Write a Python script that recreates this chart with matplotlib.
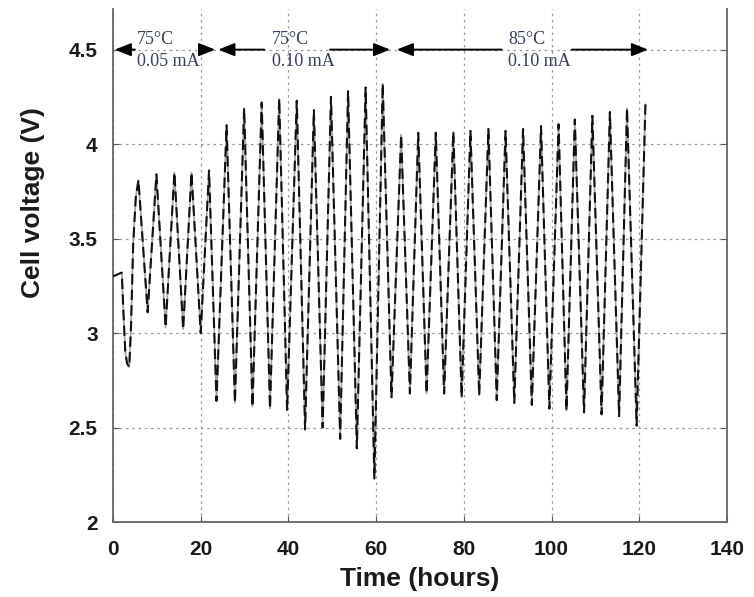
import matplotlib
matplotlib.use("Agg")
import matplotlib.pyplot as plt

# cycling data (hours, volts): troughs and peaks of each cycle
time_h = [0, 1.0, 2.0, 2.4, 2.8, 3.2, 3.7, 4.1, 4.6, 5.2, 5.8,
          7.9, 9.9, 12.0, 14.0, 16.0, 17.9, 20.0, 21.9,
          23.6, 25.9, 27.8, 29.9, 31.8, 33.9, 35.8, 37.9, 39.7, 41.9,
          43.8, 45.8, 47.8, 49.7, 51.8, 53.6, 55.6, 57.6, 59.6, 61.5,
          63.5, 65.7, 67.7, 69.6, 71.5, 73.6, 75.5, 77.6, 79.5, 81.5,
          83.5, 85.6, 87.5, 89.5, 91.5, 93.5, 95.5, 97.6, 99.5, 101.6,
          103.4, 105.3, 107.4, 109.3, 111.4, 113.3, 115.4, 117.2, 119.4, 121.4]
voltage = [3.30, 3.31, 3.32, 3.10, 2.90, 2.84, 2.82, 3.03, 3.47, 3.72, 3.81,
           3.11, 3.84, 3.03, 3.85, 3.02, 3.85, 3.00, 3.86,
           2.64, 4.10, 2.63, 4.19, 2.61, 4.22, 2.60, 4.24, 2.59, 4.23,
           2.49, 4.18, 2.50, 4.25, 2.44, 4.28, 2.39, 4.30, 2.23, 4.32,
           2.66, 4.05, 2.68, 4.06, 2.68, 4.06, 2.68, 4.065, 2.66, 4.07,
           2.67, 4.08, 2.645, 4.07, 2.63, 4.08, 2.62, 4.095, 2.60, 4.105,
           2.59, 4.13, 2.58, 4.15, 2.57, 4.17, 2.56, 4.19, 2.51, 4.21]

# test conditions: (start, text left, gap start, gap end, end, temp, current)
segments = [
    (0.4, 5.5, 5.0, 21.0, 23.3, "75°C", "0.05 mA"),
    (24.0, 36.3, 34.5, 49.5, 63.2, "75°C", "0.10 mA"),
    (64.7, 90.1, 88.6, 104.6, 122.0, "85°C", "0.10 mA"),
]

x_ticks = [0, 20, 40, 60, 80, 100, 120, 140]
y_ticks = [2, 2.5, 3, 3.5, 4, 4.5]

fig = plt.figure(figsize=(7.54, 5.97), dpi=100)
ax = fig.add_axes([113 / 754, 1 - 522 / 597, 614 / 754, 513 / 597])

# gray trace with black dashes on top, like the scanned original
ax.plot(time_h, voltage, color="#a0a0a0", linewidth=1.2, zorder=3)
ax.plot(time_h, voltage, color="#111111", linewidth=1.5, dashes=(5, 2.5), zorder=4)

ax.set_xlim(0, 140)
ax.set_ylim(2, 4.715)
ax.set_xticks(x_ticks)
ax.set_yticks(y_ticks)
ax.set_yticklabels(["%g" % v for v in y_ticks])

ax.grid(True, linestyle=(0, (2, 3)), color="#999999", linewidth=0.9)
ax.set_axisbelow(True)

for side in ["left", "right", "bottom"]:
    ax.spines[side].set_color("#666666")
    ax.spines[side].set_linewidth(1.3)
    ax.spines[side].set_linestyle((0, (3, 1)))
ax.spines["top"].set_visible(False)

ax.tick_params(direction="in", length=4, right=True, top=False, color="#555555")
ax.tick_params(axis="x", pad=13)
ax.tick_params(axis="y", pad=11)
for lbl in ax.get_xticklabels() + ax.get_yticklabels():
    lbl.set_fontfamily("Liberation Sans")
    lbl.set_fontweight("bold")
    lbl.set_fontsize(15)
    lbl.set_color("#1a1a1a")

fig.text(420 / 754, 1 - 579 / 597, "Time (hours)", ha="center", va="center",
         fontsize=19, fontweight="bold", family="Liberation Sans", color="#1a1a1a")
fig.text(33 / 754, 1 - 203 / 597, "Cell voltage (V)", ha="center", va="center",
         rotation=90, fontsize=19, fontweight="bold", family="Liberation Sans",
         color="#1a1a1a")

# arrows showing each test condition
arrow_kw = dict(arrowstyle="-|>,head_length=0.7,head_width=0.28", color="black",
                lw=1.4, shrinkA=0, shrinkB=0, mutation_scale=14)
for start, text_x, gap_a, gap_b, end, temp, cur in segments:
    ax.annotate("", xy=(start, 4.5), xytext=(gap_a, 4.5), arrowprops=arrow_kw, zorder=5)
    ax.annotate("", xy=(end, 4.5), xytext=(gap_b, 4.5), arrowprops=arrow_kw, zorder=5)
    ax.text(text_x, 4.553, temp, ha="left", va="center", fontsize=13,
            family="Liberation Serif", color="#34405a", zorder=6)
    ax.text(text_x, 4.435, cur, ha="left", va="center", fontsize=13,
            family="Liberation Serif", color="#34405a", zorder=6)

fig.savefig("out.png", dpi=100)
